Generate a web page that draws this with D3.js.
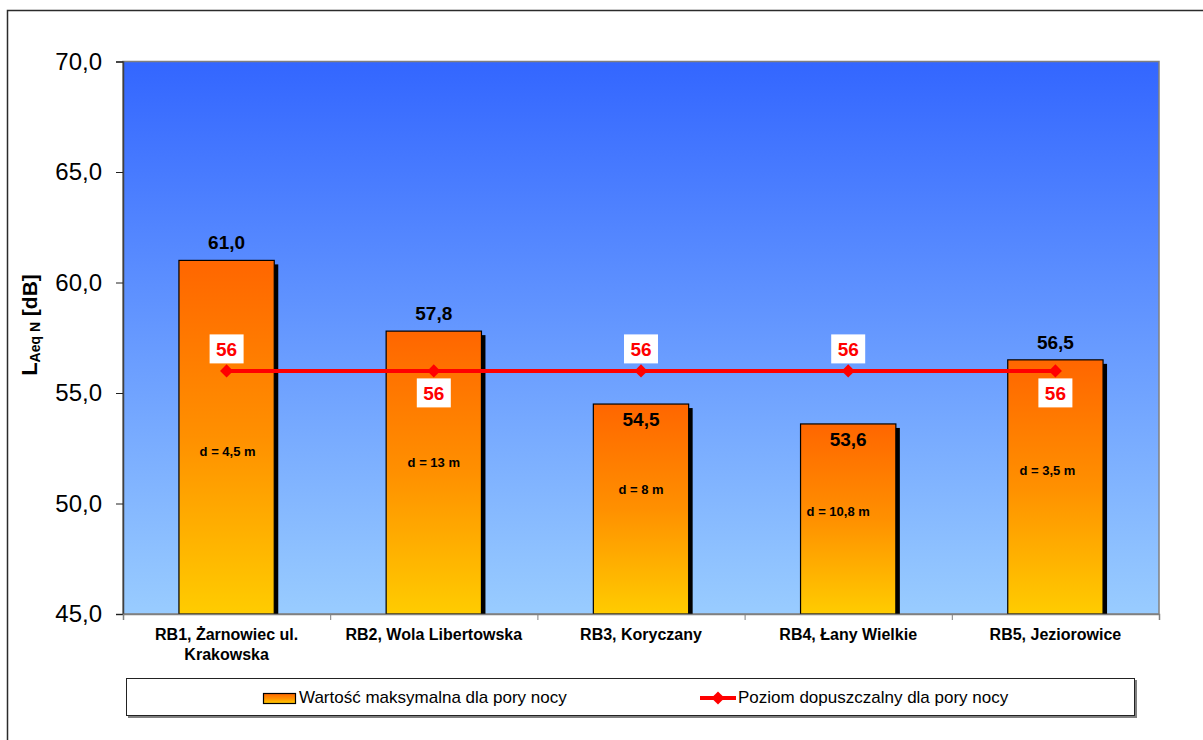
<!DOCTYPE html>
<html lang="pl">
<head>
<meta charset="utf-8">
<script src="https://cdn.jsdelivr.net/npm/d3@7"></script>
<style>
  html, body { margin: 0; padding: 0; background: #fff; }
  svg { display: block; font-family: Arial, "Liberation Sans", sans-serif; }
</style>
</head>
<body>
<svg id="chart" width="1203" height="740"></svg>
<script>
// Measurement points (night-time noise, LAeq N)
const categories = [
  "RB1, Żarnowiec ul. Krakowska",
  "RB2, Wola Libertowska",
  "RB3, Koryczany",
  "RB4, Łany Wielkie",
  "RB5, Jeziorowice"
];
const maxNight = [61.0, 57.8, 54.5, 53.6, 56.5];     // Wartość maksymalna dla pory nocy
const limitNight = [56, 56, 56, 56, 56];             // Poziom dopuszczalny dla pory nocy
const distanceNotes = ["d = 4,5 m", "d = 13 m", "d = 8 m", "d = 10,8 m", "d = 3,5 m"];
const yTicks = [45, 50, 55, 60, 65, 70];
const seriesNames = ["Wartość maksymalna dla pory nocy", "Poziom dopuszczalny dla pory nocy"];

// Placement of the free annotations (level in dB, horizontal nudge in px)
const noteLevel = [52.35, 51.85, 50.65, 49.65, 51.5];
const noteShift = [1, 0, 0, -10, -8];
const limitLabelSide = ["above", "below", "above", "above", "below"];

const svg = d3.select("#chart");
const plot = { left: 123, top: 61.5, right: 1159, bottom: 614 };

const y = d3.scaleLinear().domain([45, 70]).range([plot.bottom, plot.top]);
const x = d3.scaleBand().domain(categories).range([plot.left, plot.right]).padding(0);
const xEdge = d3.scaleLinear().domain([0, categories.length]).range([plot.left, plot.right]);
const barW = x.bandwidth() * 0.46;
const cx = c => x(c) + x.bandwidth() / 2;
const fmt = v => d3.format(".1f")(v).replace(".", ",");

// gradients
const defs = svg.append("defs");
const bg = defs.append("linearGradient").attr("id", "plotBg")
  .attr("x1", 0).attr("y1", 0).attr("x2", 0).attr("y2", 1);
bg.append("stop").attr("offset", 0).attr("stop-color", "#3366ff");
bg.append("stop").attr("offset", 1).attr("stop-color", "#99ccff");

const barGrad = defs.append("linearGradient").attr("id", "barFill")
  .attr("x1", 0).attr("y1", 0).attr("x2", 0).attr("y2", 1);
barGrad.append("stop").attr("offset", 0).attr("stop-color", "#ff6600");
barGrad.append("stop").attr("offset", 0.5).attr("stop-color", "#ff9000");
barGrad.append("stop").attr("offset", 1).attr("stop-color", "#ffcc00");

// outer chart frame
svg.append("rect").attr("x", 7.5).attr("y", 10.5).attr("width", 1200).attr("height", 740)
  .attr("fill", "#fff").attr("stroke", "#2b2b2b").attr("stroke-width", 1.5);

// plot area
svg.append("rect")
  .attr("x", plot.left).attr("y", plot.top)
  .attr("width", plot.right - plot.left).attr("height", plot.bottom - plot.top)
  .attr("fill", "url(#plotBg)").attr("stroke", "#808080").attr("stroke-width", 1.5);

// bars: shadow then body
const bars = svg.append("g");
bars.selectAll("rect.shadow").data(categories).join("rect")
  .attr("class", "shadow")
  .attr("x", (c, i) => cx(c) - barW / 2 + 4)
  .attr("y", (c, i) => y(maxNight[i]) + 4)
  .attr("width", barW)
  .attr("height", (c, i) => plot.bottom - y(maxNight[i]) - 4)
  .attr("fill", "#000");
bars.selectAll("rect.bar").data(categories).join("rect")
  .attr("class", "bar")
  .attr("x", c => cx(c) - barW / 2)
  .attr("y", (c, i) => y(maxNight[i]))
  .attr("width", barW)
  .attr("height", (c, i) => plot.bottom - y(maxNight[i]))
  .attr("fill", "url(#barFill)").attr("stroke", "#000").attr("stroke-width", 1.2);

// axes
const yAxis = svg.append("g").attr("transform", `translate(${plot.left},0)`)
  .call(d3.axisLeft(y).tickValues(yTicks).tickSize(7).tickPadding(14).tickFormat(fmt));
yAxis.select(".domain").attr("stroke", "#404040").attr("stroke-width", 1.5);
yAxis.selectAll(".tick line").attr("stroke", "#202020");
yAxis.selectAll(".tick text").attr("font-size", 24).attr("fill", "#000")
  .attr("font-family", "Arial, 'Liberation Sans', sans-serif");

const xAxis = svg.append("g").attr("transform", `translate(0,${plot.bottom})`)
  .call(d3.axisBottom(xEdge).tickValues(d3.range(categories.length + 1)).tickSize(6).tickFormat(""));
xAxis.select(".domain").attr("stroke", "#808080").attr("stroke-width", 1.5);
xAxis.selectAll(".tick line").attr("stroke", "#808080");

// category labels, wrapped inside each band
const catLabels = svg.append("g").attr("font-size", 16).attr("font-weight", "bold")
  .attr("text-anchor", "middle").attr("fill", "#000");
categories.forEach(c => {
  const t = catLabels.append("text").attr("x", cx(c)).attr("y", 640);
  const words = c.split(" ");
  let line = [];
  let ts = t.append("tspan").attr("x", cx(c)).attr("dy", 0);
  words.forEach(w => {
    line.push(w);
    ts.text(line.join(" "));
    if (ts.node().getComputedTextLength() > 190 && line.length > 1) {
      line.pop();
      ts.text(line.join(" "));
      line = [w];
      ts = t.append("tspan").attr("x", cx(c)).attr("dy", 20).text(w);
    }
  });
});

// value labels (inside the bar top when below the limit)
svg.append("g").attr("font-size", 19).attr("font-weight", "bold").attr("text-anchor", "middle")
  .selectAll("text").data(categories).join("text")
  .attr("x", c => cx(c))
  .attr("y", (c, i) => maxNight[i] < limitNight[i] ? y(maxNight[i]) + 22 : y(maxNight[i]) - 11)
  .attr("fill", "#000")
  .text((c, i) => fmt(maxNight[i]));

// distance notes
svg.append("g").attr("font-size", 13).attr("font-weight", "bold").attr("text-anchor", "middle")
  .selectAll("text").data(categories).join("text")
  .attr("x", (c, i) => cx(c) + noteShift[i])
  .attr("y", (c, i) => y(noteLevel[i]) + 4.5)
  .attr("fill", "#000")
  .text((c, i) => distanceNotes[i]);

// permissible level line with diamond markers
const line = d3.line().x(c => cx(c)).y((c, i) => y(limitNight[i]));
svg.append("path").datum(categories).attr("d", line)
  .attr("fill", "none").attr("stroke", "#ff0000").attr("stroke-width", 4);
const diamond = d3.symbol().type(d3.symbolDiamond2).size(110);
svg.append("g").selectAll("path").data(categories).join("path")
  .attr("d", diamond)
  .attr("transform", (c, i) => `translate(${cx(c)},${y(limitNight[i])})`)
  .attr("fill", "#ff0000");

// limit labels in white boxes
const limG = svg.append("g");
categories.forEach((c, i) => {
  const ly = y(limitNight[i]) + (limitLabelSide[i] === "above" ? -22 : 22);
  limG.append("rect").attr("x", cx(c) - 17).attr("y", ly - 14.5)
    .attr("width", 34).attr("height", 29).attr("fill", "#fff");
  limG.append("text").attr("x", cx(c)).attr("y", ly + 7)
    .attr("text-anchor", "middle").attr("font-size", 19).attr("font-weight", "bold")
    .attr("fill", "#ff0000").text(limitNight[i]);
});

// y axis title: L_Aeq N [dB]
const yTitle = svg.append("text")
  .attr("transform", "translate(37,325) rotate(-90)")
  .attr("text-anchor", "middle").attr("font-weight", "bold").attr("fill", "#000");
yTitle.append("tspan").attr("font-size", 22).text("L");
yTitle.append("tspan").attr("font-size", 14).attr("dy", 3).text("Aeq N");
yTitle.append("tspan").attr("font-size", 21).attr("dy", -3).text(" [dB]");

// legend
const lg = svg.append("g");
lg.append("rect").attr("x", 128).attr("y", 680).attr("width", 1009).attr("height", 38).attr("fill", "#808080");
lg.append("rect").attr("x", 126.5).attr("y", 678.5).attr("width", 1008).attr("height", 37)
  .attr("fill", "#fff").attr("stroke", "#222").attr("stroke-width", 1);
lg.append("rect").attr("x", 263.5).attr("y", 693.5).attr("width", 32).attr("height", 10)
  .attr("fill", "url(#barFill)").attr("stroke", "#000").attr("stroke-width", 1.2);
lg.append("text").attr("x", 299).attr("y", 703).attr("font-size", 17).attr("fill", "#000").text(seriesNames[0]);
lg.append("line").attr("x1", 700).attr("x2", 736).attr("y1", 698).attr("y2", 698)
  .attr("stroke", "#ff0000").attr("stroke-width", 4);
lg.append("path").attr("d", diamond).attr("transform", "translate(718,698)").attr("fill", "#ff0000");
lg.append("text").attr("x", 738).attr("y", 703).attr("font-size", 17).attr("fill", "#000").text(seriesNames[1]);
</script>
</body>
</html>
